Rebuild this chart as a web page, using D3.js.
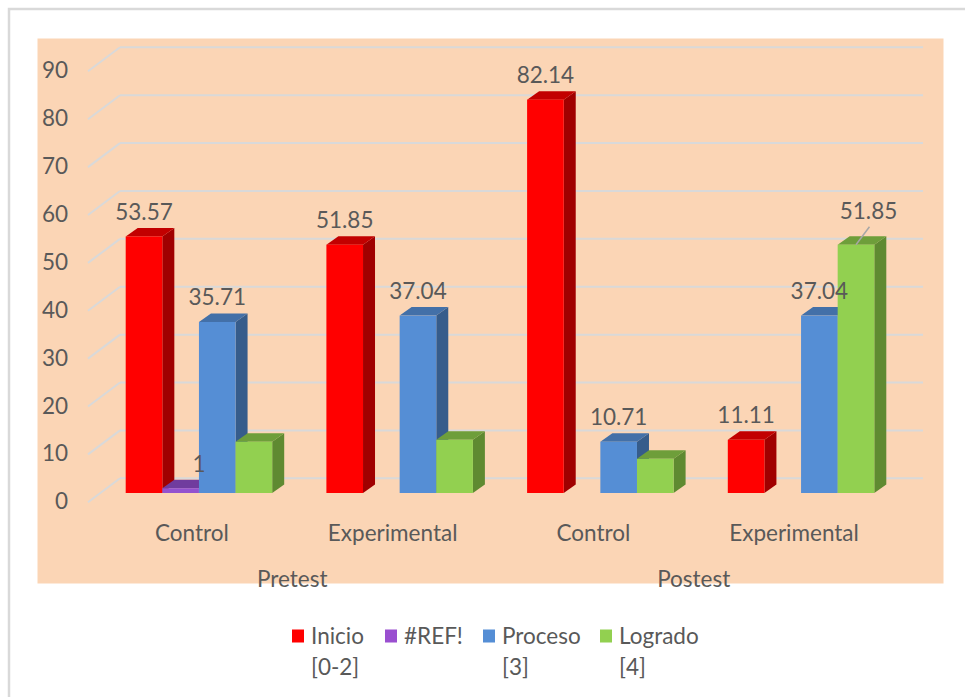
<!DOCTYPE html>
<html>
<head>
<meta charset="utf-8">
<script src="https://cdn.jsdelivr.net/npm/d3@7"></script>
<style>
  html, body { margin: 0; padding: 0; background: #ffffff; }
  svg { display: block; }
  text { font-family: Lato, "Liberation Sans", sans-serif; fill: #595959; }
</style>
</head>
<body>
<svg id="chart" width="965" height="697"></svg>
<script>
// ---- data ----
const phases = ["Pretest", "Postest"];
const groups = ["Control", "Experimental", "Control", "Experimental"];
const groupPhase = [0, 0, 1, 1];
const seriesNames = ["Inicio [0-2]", "#REF!", "Proceso [3]", "Logrado [4]"];
const inicio  = [53.57, 51.85, 82.14, 11.11];
const ref     = [1, null, null, null];
const proceso = [35.71, 37.04, 10.71, 37.04];
const logrado = [10.71, 11.11, 7.14, 51.85];
const showLabel = [
  [true, true, true, true],
  [true, false, false, false],
  [true, true, true, true],
  [false, false, false, true]
];
const yTicks = [0, 10, 20, 30, 40, 50, 60, 70, 80, 90];

const seriesValues = [inicio, ref, proceso, logrado];
const colors = [
  { front: "#FF0000", side: "#A00000", top: "#C20000", legend: "#FF0000" },
  { front: "#9352CF", side: "#5E3386", top: "#703C9E", legend: "#9A4FD0" },
  { front: "#558ED5", side: "#365C8B", top: "#4370A8", legend: "#558ED5" },
  { front: "#92D050", side: "#5F8A31", top: "#6E9E3A", legend: "#92D050" }
];
const FS = 22.5;

const svg = d3.select("#chart");

// outer chart border (only left and top visible in frame)
svg.append("rect").attr("x", 9).attr("y", 9).attr("width", 980).attr("height", 720)
  .attr("fill", "#fff").attr("stroke", "#D9D9D9").attr("stroke-width", 2.5);

// plot area background
svg.append("rect").attr("x", 37.5).attr("y", 38.5).attr("width", 906).attr("height", 545)
  .attr("fill", "#FBD5B5");

// scales
const yLen = d3.scaleLinear().domain([0, 90]).range([0, 431]);
const backBase = 478.3, frontBase = 502.3, barBase = 493;
const backX0 = 120, backX1 = 923, frontX = 88;

const x0 = d3.scaleBand().domain(d3.range(groups.length)).range([98.6, 901.4]);
const x1 = d3.scaleBand().domain(d3.range(seriesNames.length))
  .range([27.1, x0.bandwidth() - 27.1]);

// gridlines: back wall + side diagonal
const grid = svg.append("g");
yTicks.forEach(t => {
  const yb = backBase - yLen(t), yf = frontBase - yLen(t);
  grid.append("line").attr("x1", backX0).attr("x2", backX1).attr("y1", yb).attr("y2", yb)
    .attr("stroke", "#D9D9D9").attr("stroke-width", 2);
  grid.append("line").attr("x1", frontX).attr("x2", backX0).attr("y1", yf).attr("y2", yb)
    .attr("stroke", "#D9D9D9").attr("stroke-width", 2);
});

// y tick labels
svg.append("g").selectAll("text").data(yTicks).join("text")
  .attr("x", 68).attr("y", d => frontBase - 1.5 - yLen(d))
  .attr("text-anchor", "end").attr("dominant-baseline", "central")
  .attr("font-size", FS).text(d => d);

// bars
const dx = 12, dy = -8.5;
const bars = svg.append("g");
groups.forEach((g, gi) => {
  seriesValues.forEach((vals, si) => {
    const v = vals[gi];
    if (v === null || v === undefined) return;
    const x = x0(gi) + x1(si), w = x1.bandwidth();
    const yt = barBase - yLen(v), yb = barBase;
    const c = colors[si];
    bars.append("polygon")
      .attr("points", [[x + w, yt], [x + w + dx, yt + dy], [x + w + dx, yb + dy], [x + w, yb]].join(" "))
      .attr("fill", c.side);
    bars.append("polygon")
      .attr("points", [[x, yt], [x + dx, yt + dy], [x + w + dx, yt + dy], [x + w, yt]].join(" "))
      .attr("fill", c.top);
    bars.append("rect").attr("x", x).attr("y", yt).attr("width", w).attr("height", yb - yt)
      .attr("fill", c.front);
  });
});

// data labels
const labelOffsets = { "1-0": [18.5, 0], "3-3": [12.5, -9] };
const labels = svg.append("g");
groups.forEach((g, gi) => {
  seriesValues.forEach((vals, si) => {
    const v = vals[gi];
    if (v === null || v === undefined || !showLabel[si][gi]) return;
    const cx = x0(gi) + x1(si) + x1.bandwidth() / 2;
    const yt = barBase - yLen(v);
    const off = labelOffsets[si + "-" + gi] || [0, 0];
    const lx = cx + off[0], ly = yt - 25 + off[1];
    if (off[1] !== 0) {
      labels.append("line").attr("x1", cx).attr("y1", yt)
        .attr("x2", lx + 1).attr("y2", ly + 16)
        .attr("stroke", "#A6A6A6").attr("stroke-width", 1.5);
    }
    labels.append("text").attr("x", lx).attr("y", ly)
      .attr("text-anchor", "middle").attr("dominant-baseline", "central")
      .attr("font-size", FS).text(v);
  });
});

// category labels
svg.append("g").selectAll("text").data(groups).join("text")
  .attr("x", (d, i) => x0(i) + x0.bandwidth() / 2 - 7)
  .attr("y", 532).attr("text-anchor", "middle").attr("dominant-baseline", "central")
  .attr("font-size", FS).text(d => d);

// phase labels
svg.append("g").selectAll("text").data(phases).join("text")
  .attr("x", (d, pi) => {
    const idx = groupPhase.map((p, i) => p === pi ? i : -1).filter(i => i >= 0);
    return d3.mean(idx, i => x0(i) + x0.bandwidth() / 2) - 7;
  })
  .attr("y", 578).attr("text-anchor", "middle").attr("dominant-baseline", "central")
  .attr("font-size", FS).text(d => d);

// legend
const legendX = [292, 385, 483, 600];
const leg = svg.append("g");
seriesNames.forEach((name, i) => {
  leg.append("rect").attr("x", legendX[i]).attr("y", 629.5).attr("width", 12).attr("height", 13)
    .attr("fill", colors[i].legend);
  const parts = name.split(" ");
  parts.forEach((p, k) => {
    leg.append("text").attr("x", legendX[i] + 19).attr("y", 635 + k * 31)
      .attr("dominant-baseline", "central").attr("font-size", FS).text(p);
  });
});
</script>
</body>
</html>
